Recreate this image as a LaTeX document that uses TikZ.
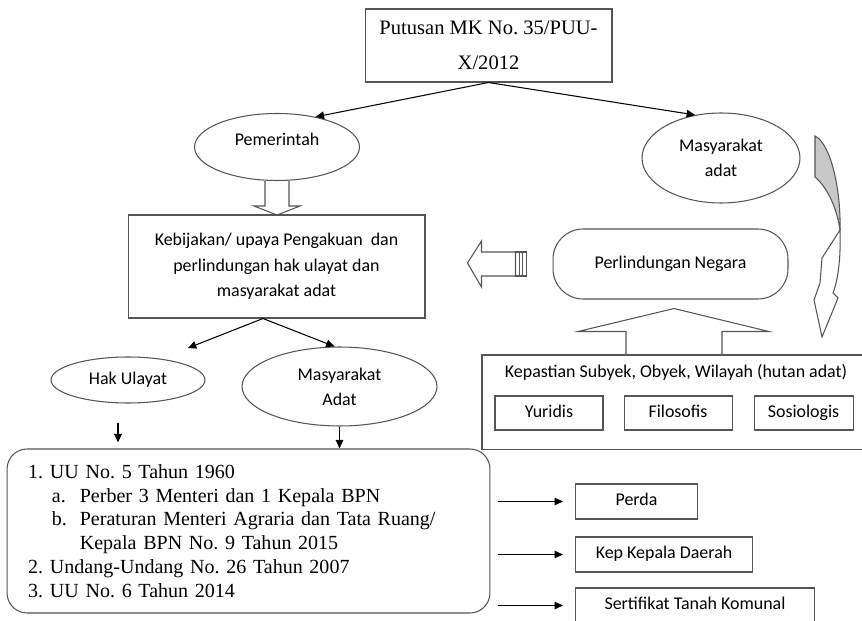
\documentclass[tikz,border=0pt]{standalone}
\usepackage{fontspec}
\setmainfont{Liberation Serif}
\newfontfamily\calibrifont{Carlito}
\frenchspacing
\usetikzlibrary{positioning,arrows.meta,shapes.geometric}
\definecolor{LineGrey}{RGB}{85,85,85}
\definecolor{ArrowGrey}{RGB}{200,200,200}
\tikzset{
  flow/.style={-{Triangle[length=1.7mm,width=1.5mm]},line width=0.6pt,draw=black},
  hollow/.style={draw=LineGrey,line width=0.6pt,line join=miter},
  box/.style={draw=LineGrey,line width=0.6pt,inner sep=0pt,align=center,
    font=\calibrifont\fontsize{10.2}{14.5}\selectfont},
  cellbox/.style={box,text height=1.6ex,text depth=0.5ex},
  oval/.style={ellipse,draw=LineGrey,line width=0.6pt,inner sep=0pt,align=center,
    font=\calibrifont\fontsize{10.2}{14.2}\selectfont},
  serifbox/.style={draw=LineGrey,line width=0.6pt,inner sep=0pt,align=center,
    font=\fontsize{11.7}{19.9}\selectfont},
  listbox/.style={draw=LineGrey,line width=0.6pt,rounded corners=0.4cm,align=left,
    text width=8.82cm,inner xsep=0.42cm,inner ysep=0pt,
    font=\fontsize{11.4}{13.5}\selectfont}
}

\begin{document}
\begin{tikzpicture}[x=0.02cm,y=-0.02cm]
  \useasboundingbox (0,0) rectangle (862,621);
  \clip (0,0) rectangle (862,621);

  \node[serifbox,minimum width=4.94cm,minimum height=1.46cm] (putusan) at (488.5,45.5) {Putusan MK No. 35/PUU-\\X/2012};
  \node[oval,text height=7pt,text depth=9pt,minimum width=3.3cm,minimum height=1.34cm] (pemerintah) at (277,147) {Pemerintah};
  \node[oval,minimum width=3.16cm,minimum height=1.8cm] (masadat) at (721,158) {Masyarakat\\adat};
  \draw[flow] (putusan.south) -- (pemerintah.38);
  \draw[flow] (putusan.south) -- (masadat.121);

  \node[box,minimum width=5.94cm,minimum height=2.06cm] (kebijakan) at (276.5,266.5) {Kebijakan/ upaya Pengakuan\ \ dan\\perlindungan\ hak ulayat dan\\masyarakat adat};
  \draw[hollow] (pemerintah.south) ++(-12,0) -- ++(0,25) -- ++(-11,0) -- ++(23,9) -- ++(23,-9) -- ++(-11,0) -- ++(0,-25);

  \node[box,rounded corners=0.6cm,minimum width=4.7cm,minimum height=1.4cm] (perlindungan) at (670.5,264) {Perlindungan Negara};
  \draw[hollow] (perlindungan.west) ++(-37,-12) -- ++(-34,0) -- ++(0,-11) -- ++(-14,22) -- ++(14,24) -- ++(0,-11) -- ++(34,0) -- cycle;
  \foreach \s in {0,1,2}
    \draw[hollow] (perlindungan.west) ++({-37+3.7*\s},-12) rectangle ++(3.7,24);

  \node[box,draw=none,anchor=north west,minimum width=7.9cm,minimum height=1.86cm] (kepastian) at (482,355) {};
  \draw[hollow] (kepastian.north east) -- (kepastian.north west) -- (kepastian.south west) -- (kepastian.south east);
  \node[font=\calibrifont\fontsize{10.2}{12}\selectfont,inner sep=0pt] (kepastianlbl) at (676,372) {Kepastian Subyek, Obyek, Wilayah (hutan adat)};
  \node[cellbox,minimum width=2.16cm,minimum height=0.68cm] (yuridis) at (549,413) {Yuridis};
  \node[cellbox,right=0.4cm of yuridis,minimum width=2.16cm,minimum height=0.68cm] (filosofis) {Filosofis};
  \node[cellbox,right=0.42cm of filosofis,minimum width=1.98cm,minimum height=0.68cm] (sosiologis) {Sosiologis};
  \draw[hollow] ([xshift=0.07cm]perlindungan.south) ++(-48,56) -- ++(0,-24) -- ++(-48,0) -- ++(96,-23) -- ++(95,23) -- ++(-47,0) -- ++(0,24);

  \fill[ArrowGrey] (815,136) .. controls (831,144) and (841,190) .. (840,230) .. controls (837,208) and (827,187) .. (815,177) -- cycle;
  \draw[hollow] (815,136) .. controls (831,144) and (841,190) .. (840,230) .. controls (837,208) and (827,187) .. (815,177) -- cycle;
  \draw[hollow] (840,230) .. controls (841,258) and (838,280) .. (833,293) -- (838,298) -- (822,337) -- (814,300) -- (820,283) -- (822,258) -- cycle;

  \node[oval,minimum width=3.08cm,minimum height=0.92cm] (hakulayat) at (128,380) {Hak Ulayat};
  \node[oval,minimum width=3.9cm,minimum height=1.58cm] (masyarakat) at (339.5,386.5) {Masyarakat\\Adat};
  \draw[flow,shorten >=0.58cm] ([xshift=-0.27cm]kebijakan.south) -- (hakulayat.33);
  \draw[flow] ([xshift=-0.27cm]kebijakan.south) -- (masyarakat.97);

  \node[listbox,minimum height=3.28cm] (regulasi) at (248.5,531) {\makebox[12.5pt][l]{1.}UU No. 5 Tahun 1960\\
    \hspace*{13.6pt}\makebox[15.9pt][l]{a.}Perber 3 Menteri dan 1 Kepala BPN\\
    \hspace*{13.6pt}\makebox[15.9pt][l]{b.}Peraturan Menteri Agraria dan Tata Ruang/\\
    \hspace*{29.5pt}Kepala BPN No. 9 Tahun 2015\\
    \makebox[12.5pt][l]{2.}Undang-Undang No. 26 Tahun 2007\\
    \makebox[12.5pt][l]{3.}UU No. 6 Tahun 2014};
  \draw[flow,shorten <=0.38cm,shorten >=0.12cm] ([xshift=-0.2cm]hakulayat.south) -- ([xshift=-0.2cm]hakulayat.south |- regulasi.north);
  \draw[flow] (masyarakat.south) -- (masyarakat.south |- regulasi.north);

  \node[cellbox,anchor=west,minimum width=2.44cm,minimum height=0.7cm] (perda) at (575,501.5) {Perda};
  \node[cellbox,anchor=west,minimum width=3.54cm,minimum height=0.7cm] (kepkepala) at (575,554.5) {Kep Kepala Daerah};
  \node[cellbox,anchor=west,minimum width=4.78cm,minimum height=0.7cm] (sertifikat) at (575,605.5) {Sertifikat Tanah Komunal};
  \draw[flow,shorten <=0.16cm,shorten >=0.24cm] (regulasi.east |- perda.west) -- (perda.west);
  \draw[flow,shorten <=0.16cm,shorten >=0.24cm] (regulasi.east |- kepkepala.west) -- (kepkepala.west);
  \draw[flow,shorten <=0.16cm,shorten >=0.24cm] (regulasi.east |- sertifikat.west) -- (sertifikat.west);
\end{tikzpicture}
\end{document}
